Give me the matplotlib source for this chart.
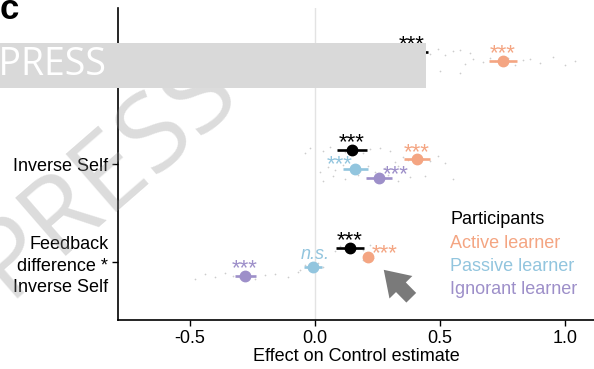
import matplotlib
matplotlib.use("Agg")
import matplotlib.pyplot as plt
from matplotlib.patches import Rectangle

plt.rcParams['font.family'] = ['Liberation Sans', 'DejaVu Sans']

# effects (rows top -> bottom) and groups
terms = ['Feedback difference', 'Inverse Self', 'Feedback\ndifference *\nInverse Self']
groups = ['Participants', 'Active learner', 'Passive learner', 'Ignorant learner']
colors = ['#000000', '#F4A582', '#92C5DE', '#9D8FC9']

est = {
    'Participants':     [0.388, 0.148, 0.140],
    'Active learner':   [0.752, 0.408, 0.212],
    'Passive learner':  [0.250, 0.160, -0.008],
    'Ignorant learner': [0.180, 0.256, -0.280],
}
err = {
    'Participants':     [0.065, 0.060, 0.055],
    'Active learner':   [0.055, 0.052, 0.015],
    'Passive learner':  [0.050, 0.050, 0.035],
    'Ignorant learner': [0.050, 0.052, 0.042],
}
sig = {
    'Participants':     ['***', '***', '***'],
    'Active learner':   ['***', '***', '***'],
    'Passive learner':  ['***', '***', 'n.s.'],
    'Ignorant learner': ['***', '***', '***'],
}

# individual estimates (grey dots)
dots = {
    'Participants': [
        [0.30, 0.33, 0.36, 0.40, 0.43, 0.46, 0.49, 0.52, 0.55, 0.58, 0.62],
        [-0.04, -0.02, 0.03, 0.06, 0.09, 0.12, 0.16, 0.19, 0.22, 0.26, 0.30],
        [0.08, 0.10, 0.12, 0.15, 0.17, 0.19, 0.22, 0.25],
    ],
    'Active learner': [
        [0.60, 0.63, 0.67, 0.70, 0.72, 0.74, 0.77, 0.80, 0.83, 0.86, 0.90, 0.95, 1.00, 1.04],
        [0.32, 0.35, 0.37, 0.40, 0.43, 0.46, 0.49, 0.52],
        [0.19, 0.21, 0.23],
    ],
    'Passive learner': [
        [0.10, 0.18, 0.26, 0.34, 0.50, 0.58],
        [0.02, 0.05, 0.08, 0.11, 0.14, 0.18, 0.21, 0.24, 0.28, 0.33],
        [-0.06, -0.04, -0.02, 0.01, 0.03],
    ],
    'Ignorant learner': [
        [0.05, 0.12, 0.20, 0.28, 0.36],
        [0.03, 0.07, 0.12, 0.17, 0.21, 0.25, 0.29, 0.33, 0.38, 0.44, 0.55],
        [-0.48, -0.44, -0.40, -0.36, -0.33, -0.30, -0.27, -0.24, -0.20, -0.16, -0.11, -0.07],
    ],
}
jitter = [-0.03, 0.02, -0.01, 0.035, 0.0, -0.02, 0.03, -0.035, 0.01, 0.025, -0.015, 0.04, -0.04, 0.005]

dodge = [0.143, 0.048, -0.048, -0.143]
ypos = [3, 2, 1]

# where the significance label centre sits relative to its point, in pixels (dx, up)
lab_off = {
    'Participants':     [(0, 11), (0, 11), (0, 11)],
    'Active learner':   [(0, 11), (0, 10), (17, 7)],
    'Passive learner':  [(0, 11), (-15, 8), (2, 12)],
    'Ignorant learner': [(0, 11), (17, 7), (0, 11)],
}
PX = 0.72  # points per pixel at dpi 100

fig = plt.figure(figsize=(5.94, 3.69), dpi=100)
ax = fig.add_axes([0.1987, 0.1328, 0.8013, 0.8455])
ax.set_facecolor('none')

ax.axvline(0, color='#e3e3e3', lw=1, zorder=0)

for g, c, d in zip(groups, colors, dodge):
    for i, y0 in enumerate(ypos):
        y = y0 + d
        xs = dots[g][i]
        ys = [y + jitter[k % len(jitter)] for k in range(len(xs))]
        ax.scatter(xs, ys, s=1.5, color='#cccccc', lw=0, zorder=1)
        ax.errorbar(est[g][i], y, xerr=err[g][i], fmt='o', color=c, ms=7.5,
                    elinewidth=1.9, capsize=0, zorder=3)
        lab = sig[g][i]
        dx, dy = lab_off[g][i]
        if lab == 'n.s.':
            ax.annotate(lab, (est[g][i], y), xytext=(dx * PX, dy * PX), textcoords='offset points',
                        ha='center', va='center', color=c, fontsize=13, style='italic', zorder=4)
        else:
            # asterisks sit high above the baseline, so anchor on the baseline
            ax.annotate(lab, (est[g][i], y), xytext=(dx * PX, (dy - 9) * PX), textcoords='offset points',
                        ha='center', va='baseline', color=c, fontsize=16, zorder=4)

ax.set_xlim(-0.788, 1.116)
ax.set_ylim(0.408, 3.592)
ax.set_xticks([-0.5, 0.0, 0.5, 1.0])
ax.set_xticklabels(['-0.5', '0.0', '0.5', '1.0'])
ax.set_yticks(ypos)
ax.set_yticklabels(terms, linespacing=1.35)
ax.tick_params(labelsize=13, length=4, width=1, color='black', pad=3)
ax.set_xlabel('Effect on Control estimate', fontsize=13, labelpad=1)
for s in ['top', 'right']:
    ax.spines[s].set_visible(False)
for s in ['left', 'bottom']:
    ax.spines[s].set_linewidth(1.2)

# legend as coloured text
for k, (g, c) in enumerate(zip(groups, colors)):
    fig.text(450 / 594, 1 - (220 + 23.3 * k) / 369, g, color=c, fontsize=13, va='center', ha='left')

# arrow
ax.annotate('', xy=(0.275, 0.92), xytext=(0.385, 0.635),
            arrowprops=dict(arrowstyle='simple,head_length=0.8,head_width=1.05,tail_width=0.45',
                            color='#7a7a7a', lw=0, mutation_scale=22, shrinkA=0, shrinkB=0))

# panel letter
fig.text(0.0, 1 - 19 / 369, 'c', fontsize=25, fontweight='bold', va='baseline', ha='left')

# watermark
fig.text(105 / 594, 1 - 175 / 369, 'PRESS', fontsize=78, family='Open Sans', color=(0.55, 0.55, 0.55, 0.3),
         rotation=41, rotation_mode='anchor', ha='center', va='center', zorder=10)
fig.patches.append(Rectangle((0, 1 - 88 / 369), 426 / 594, 45 / 369, transform=fig.transFigure,
                             facecolor='#d9d9d9', edgecolor='none', zorder=11))
fig.text(106 / 594, 1 - 65 / 369, 'IN PRESS', fontsize=27, family='Open Sans', color='white',
         ha='right', va='center', zorder=12)

fig.savefig('out.png', dpi=100)
